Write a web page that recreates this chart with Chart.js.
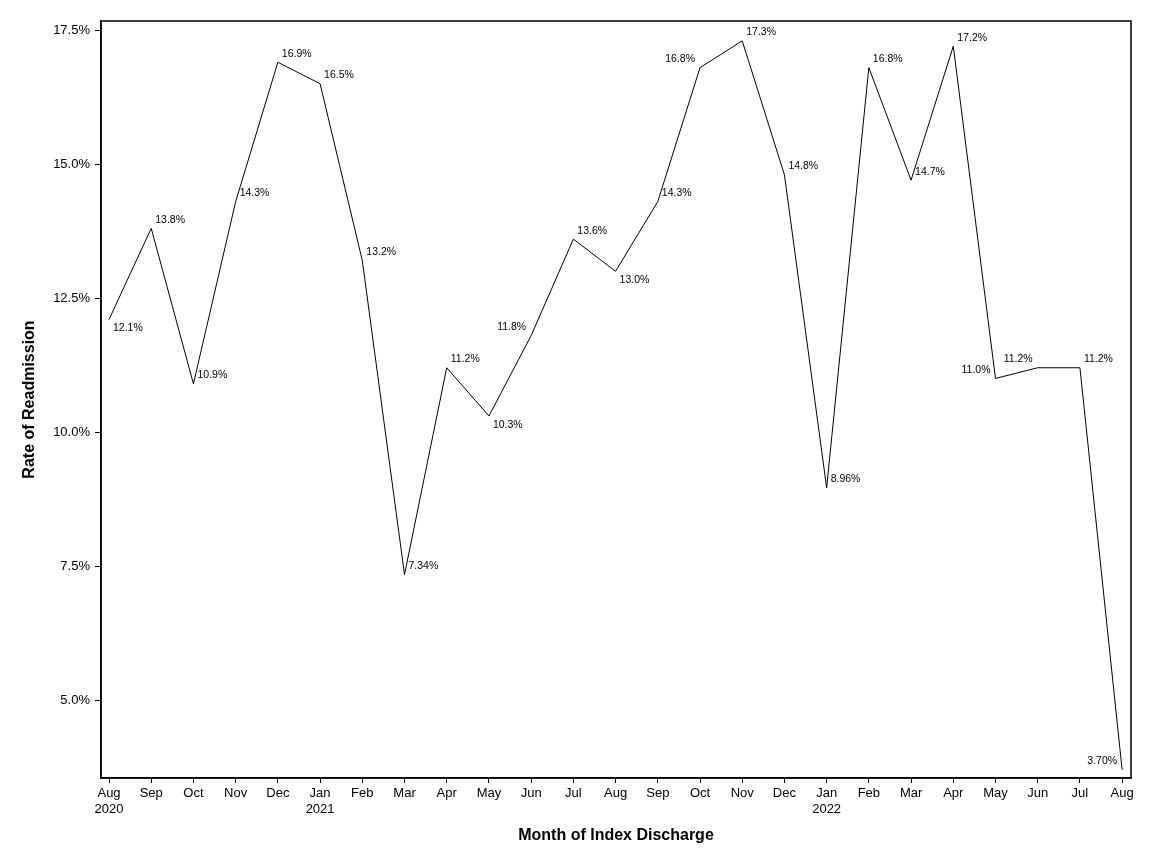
<!DOCTYPE html>
<html>
<head>
<meta charset="utf-8">
<script src="https://cdn.jsdelivr.net/npm/chart.js@4"></script>
<style>
  body { margin: 0; background: #fff; }
  #wrap { width: 1152px; height: 864px; }
</style>
</head>
<body>
<div id="wrap"><canvas id="chart" width="1152" height="864"></canvas></div>
<script>
// month of index discharge, Aug 2020 .. Aug 2022
const months = ["Aug", "Sep", "Oct", "Nov", "Dec", "Jan", "Feb", "Mar", "Apr", "May", "Jun", "Jul",
                "Aug", "Sep", "Oct", "Nov", "Dec", "Jan", "Feb", "Mar", "Apr", "May", "Jun", "Jul", "Aug"];
const years = ["2020", "", "", "", "", "2021", "", "", "", "", "", "",
               "", "", "", "", "", "2022", "", "", "", "", "", "", ""];
// readmission rate (%)
const rates = [12.1, 13.8, 10.9, 14.3, 16.9, 16.5, 13.2, 7.34, 11.2, 10.3, 11.8, 13.6,
               13.0, 14.3, 16.8, 17.3, 14.8, 8.96, 16.8, 14.7, 17.2, 11.0, 11.2, 11.2, 3.70];
const yTicks = [5.0, 7.5, 10.0, 12.5, 15.0, 17.5];

// where each point label sits relative to its point
const labelSide = ["se", "ne", "ne", "ne", "ne", "ne", "ne", "ne", "ne", "se", "nw", "ne",
                   "se", "ne", "nw", "ne", "ne", "ne", "ne", "ne", "ne", "nw", "nw", "ne", "nw"];

const FONT = "'Liberation Sans', Arial, sans-serif";

// frame round the plot area
const frame = {
  id: "frame",
  afterDraw(chart) {
    const { ctx, chartArea: a } = chart;
    ctx.save();
    ctx.strokeStyle = "#000";
    ctx.lineWidth = 1.5;
    ctx.strokeRect(a.left, a.top, a.right - a.left, a.bottom - a.top);
    ctx.restore();
  }
};

// value labels next to each point
const pointLabels = {
  id: "pointLabels",
  afterDatasetsDraw(chart) {
    const { ctx } = chart;
    const pts = chart.getDatasetMeta(0).data;
    ctx.save();
    ctx.font = "10.5px " + FONT;
    ctx.fillStyle = "#000";
    ctx.textBaseline = "middle";
    pts.forEach((p, i) => {
      const txt = rates[i].toPrecision(3) + "%";
      const side = labelSide[i];
      ctx.textAlign = side[1] === "w" ? "right" : "left";
      const x = side[1] === "w" ? p.x - 5 : p.x + 4;
      const y = side[0] === "n" ? p.y - 8.5 : p.y + 9;
      ctx.fillText(txt, x, y);
    });
    ctx.restore();
  }
};

const ctx = document.getElementById("chart").getContext("2d");
new Chart(ctx, {
  type: "line",
  data: {
    datasets: [
      {
        data: rates.map((v, i) => ({ x: i, y: v })),
        borderColor: "#000",
        borderWidth: 1,
        pointRadius: 0,
        tension: 0,
        fill: false,
      },
    ],
  },
  options: {
    responsive: false,
    animation: false,
    devicePixelRatio: 1,
    layout: { padding: { top: 21, right: 21, left: 0, bottom: 0 } },
    plugins: { legend: { display: false }, tooltip: { enabled: false } },
    scales: {
      x: {
        type: "linear",
        min: -0.19,
        max: 24.21,
        afterBuildTicks: (axis) => { axis.ticks = months.map((m, i) => ({ value: i })); },
        afterFit: (axis) => { axis.height = 86; },
        grid: { drawOnChartArea: false, drawTicks: true, tickLength: 5, color: "#000" },
        border: { display: true, color: "#000", width: 1.5 },
        ticks: {
          color: "#000",
          font: { family: FONT, size: 13 },
          padding: 3,
          maxRotation: 0,
          autoSkip: false,
          callback: (v) => (years[v] ? [months[v], years[v]] : months[v]),
        },
        title: {
          display: true,
          text: "Month of Index Discharge",
          color: "#000",
          font: { family: FONT, size: 16, weight: "bold" },
          padding: { top: 4, bottom: 19 },
        },
      },
      y: {
        min: 3.545,
        max: 17.67,
        afterBuildTicks: (axis) => { axis.ticks = yTicks.map((v) => ({ value: v })); },
        afterFit: (axis) => { axis.width = 101; },
        grid: { drawOnChartArea: false, drawTicks: true, tickLength: 6, color: "#000" },
        border: { display: true, color: "#000", width: 1.5 },
        ticks: {
          color: "#000",
          font: { family: FONT, size: 13 },
          padding: 5,
          callback: (v) => v.toFixed(1) + "%",
        },
        title: {
          display: true,
          text: "Rate of Readmission",
          color: "#000",
          font: { family: FONT, size: 16, weight: "bold" },
          padding: { top: 20, bottom: 4 },
        },
      },
    },
  },
  plugins: [frame, pointLabels],
});
</script>
</body>
</html>
